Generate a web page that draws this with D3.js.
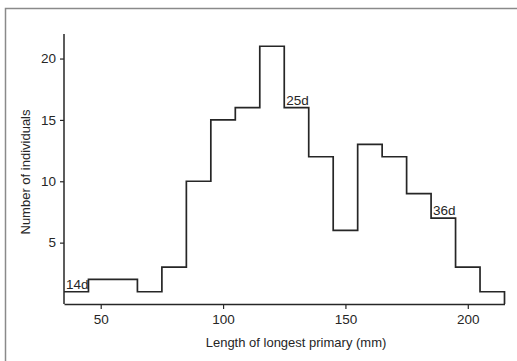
<!DOCTYPE html>
<html>
<head>
<meta charset="utf-8">
<script src="https://cdn.jsdelivr.net/npm/d3@7"></script>
<style>
  body { margin: 0; background: #fff; }
  svg { display: block; font-family: "Liberation Sans", Arial, sans-serif; }
</style>
</head>
<body>
<script>
// histogram of longest primary length, bins of 10 mm
var binStarts = [35, 45, 55, 65, 75, 85, 95, 105, 115, 125, 135, 145, 155, 165, 175, 185, 195, 205];
var counts    = [ 1,  2,  2,  1,  3, 10, 15, 16, 21, 16, 12,  6, 13, 12,  9,  7,  3,  1];
var binWidth = 10;
var xTicks = [50, 100, 150, 200];
var yTicks = [5, 10, 15, 20];
// age labels placed at the left of a bin top
var ageLabels = [
  {bin: 35, text: '14d'},
  {bin: 125, text: '25d'},
  {bin: 185, text: '36d'}
];

var W = 517, H = 361;
var ink = '#262626';

var svg = d3.select('body').append('svg')
  .attr('width', W)
  .attr('height', H);

// frame around the figure (only top and left visible)
svg.append('path')
  .attr('d', 'M5.5,' + H + 'V8.5H' + W)
  .attr('fill', 'none')
  .attr('stroke', '#8a8a8a')
  .attr('stroke-width', 1.5);

var x = d3.scaleLinear().domain([35, 215]).range([64, 504.5]);
var y = d3.scaleLinear().domain([0, 22]).range([304, 34]);

var g = svg.append('g');

// x axis
var xAxis = g.append('g')
  .attr('transform', 'translate(0,' + y(0) + ')')
  .call(d3.axisBottom(x).tickValues(xTicks).tickSize(5).tickSizeOuter(0).tickPadding(5));

// y axis
var yAxis = g.append('g')
  .attr('transform', 'translate(' + x(35) + ',0)')
  .call(d3.axisLeft(y).tickValues(yTicks).tickSize(4).tickSizeOuter(0).tickPadding(4));

[xAxis, yAxis].forEach(function(a){
  a.select('.domain').attr('stroke', ink).attr('stroke-width', 1.5);
  a.selectAll('.tick line').attr('stroke', ink).attr('stroke-width', 1.2);
  a.selectAll('.tick text')
    .attr('fill', ink)
    .style('font-size', '13.5px');
});
// y axis line runs up to the domain top
yAxis.select('.domain').attr('d', 'M0,' + y(0) + 'V' + y(22));

// step outline of the histogram
var pts = [];
binStarts.forEach(function(b, i){
  pts.push([x(b), y(counts[i])]);
  pts.push([x(b + binWidth), y(counts[i])]);
});
var last = binStarts[binStarts.length - 1] + binWidth;
pts.push([x(last), y(0)]);

g.append('path')
  .attr('d', d3.line()(pts))
  .attr('fill', 'none')
  .attr('stroke', ink)
  .attr('stroke-width', 1.7);

// age labels
g.selectAll('.age')
  .data(ageLabels)
  .enter().append('text')
  .attr('class', 'age')
  .attr('x', function(d){ return x(d.bin) + 2; })
  .attr('y', function(d){ return y(counts[binStarts.indexOf(d.bin)]) - 3; })
  .attr('fill', ink)
  .style('font-size', '13.5px')
  .text(function(d){ return d.text; });

// axis titles
g.append('text')
  .attr('x', 296)
  .attr('y', 347)
  .attr('text-anchor', 'middle')
  .attr('fill', ink)
  .style('font-size', '13px')
  .text('Length of longest primary (mm)');

g.append('text')
  .attr('transform', 'translate(30,172) rotate(-90)')
  .attr('text-anchor', 'middle')
  .attr('fill', ink)
  .style('font-size', '13px')
  .text('Number of individuals');
</script>
</body>
</html>
